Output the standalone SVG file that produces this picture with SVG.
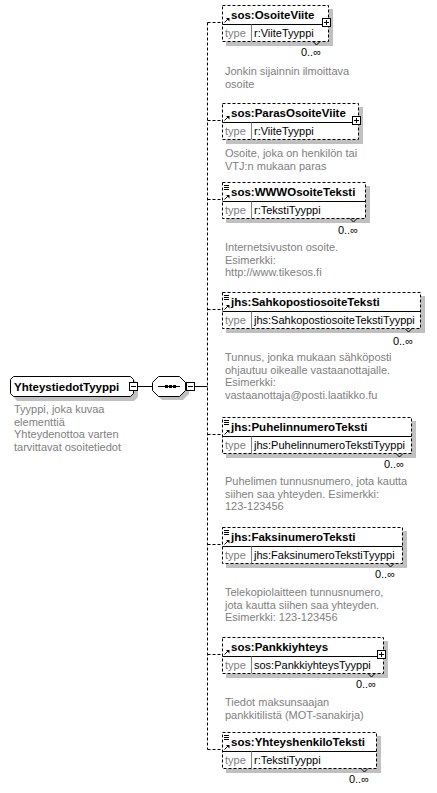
<svg xmlns="http://www.w3.org/2000/svg" width="437" height="793" viewBox="0 0 437 793">
<style>
.bg{fill:#fff}
.sh{fill:#c0c0c0}
.box{fill:#fff;stroke:#000;stroke-width:1;stroke-dasharray:3,2}
.sol{fill:#fff;stroke:#000;stroke-width:1}
.dv{stroke:#000;stroke-width:1;fill:none}
.dv2{stroke:#808080;stroke-width:1;fill:none}
.cn{stroke:#000;stroke-width:1;fill:none;stroke-dasharray:3,2}
.ln{stroke:#000;stroke-width:1;fill:none}
.ti{font-family:"Liberation Sans",Arial,sans-serif;font-size:11.5px;font-weight:bold;fill:#000}
.ty{font-family:"Liberation Sans",Arial,sans-serif;font-size:11px;fill:#000}
.gr{fill:#808080}
.ds{font-family:"Liberation Sans",Arial,sans-serif;font-size:11px;fill:#808080}
.mu{font-family:"Liberation Sans",Arial,sans-serif;font-size:11px;fill:#000;text-anchor:end}
</style>
<defs>
<g id="arrow"><path d="M0.5,4.5 L4,1" class="ln"/><path d="M2,0 L5.5,0 L5.5,3.5 Z" fill="#000"/></g>
<g id="lines"><path d="M0,0.5 H5 M0,2.5 H5 M0,4.5 H5" class="ln"/></g>
</defs>
<rect class="bg" x="0" y="0" width="437" height="793"/>

<g id="connectors">
<line class="ln" x1="137.5" y1="386.5" x2="152.5" y2="386.5"/>
<line class="ln" x1="194.5" y1="386.5" x2="207.5" y2="386.5"/>
<line class="cn" x1="207.5" y1="22.5" x2="207.5" y2="749.5"/>
<line class="cn" x1="207.5" y1="22.5" x2="222.5" y2="22.5"/>
<line class="cn" x1="207.5" y1="120.5" x2="222.5" y2="120.5"/>
<line class="cn" x1="207.5" y1="199.5" x2="222.5" y2="199.5"/>
<line class="cn" x1="207.5" y1="309.5" x2="222.5" y2="309.5"/>
<line class="cn" x1="207.5" y1="434.5" x2="222.5" y2="434.5"/>
<line class="cn" x1="207.5" y1="544.5" x2="222.5" y2="544.5"/>
<line class="cn" x1="207.5" y1="654.5" x2="222.5" y2="654.5"/>
<line class="cn" x1="207.5" y1="749.5" x2="222.5" y2="749.5"/>
</g>

<g id="YhteystiedotTyyppi">
<path class="sh" d="M17,380 H134 L138,384 V397 L134,401 H17 L14,397 V384 Z"/>
<path class="sol" d="M13.5,376.5 H130.5 L133.5,379.5 V393.5 L130.5,396.5 H13.5 L10.5,393.5 V379.5 Z"/>
<text class="ti" x="14" y="391">YhteystiedotTyyppi</text>
<rect class="sol" x="129.5" y="382.5" width="8" height="8"/>
<line class="ln" x1="131" y1="386.5" x2="136" y2="386.5"/>
<text class="ds" x="14" y="413">Tyyppi, joka kuvaa</text>
<text class="ds" x="14" y="425.5">elementtiä</text>
<text class="ds" x="14" y="438">Yhteydenottoa varten</text>
<text class="ds" x="14" y="450.5">tarvittavat osoitetiedot</text>
</g>

<g id="sequence">
<path class="sh" d="M162,380 H183 L189,386 V394 L183,400 H162 L156,394 V386 Z"/>
<path class="sol" d="M158.5,376.5 H179.5 L185.5,382.5 V390.5 L179.5,396.5 H158.5 L152.5,390.5 V382.5 Z"/>
<line class="ln" x1="158" y1="386.5" x2="180" y2="386.5"/>
<rect x="165" y="385" width="3" height="3" fill="#000"/>
<rect x="169" y="385" width="3" height="3" fill="#000"/>
<rect x="173" y="385" width="3" height="3" fill="#000"/>
<rect class="sol" x="186.5" y="382.5" width="8" height="8"/>
<line class="ln" x1="188" y1="386.5" x2="193" y2="386.5"/>
</g>

<g id="OsoiteViite">
<rect class="sh" x="226" y="9" width="107" height="37"/>
<rect class="box" x="222.5" y="5.5" width="106" height="36"/>
<line class="dv" x1="222.5" y1="24.5" x2="328.5" y2="24.5"/>
<line class="dv2" x1="251.5" y1="24.5" x2="251.5" y2="41.5"/>
<use href="#arrow" x="224" y="18"/>
<text class="ti" x="231" y="19">sos:OsoiteViite</text>
<text class="ty gr" x="225" y="37">type</text>
<text class="ty" x="254" y="37">r:ViiteTyyppi</text>
<rect class="sol" x="322.5" y="18.5" width="8" height="8"/>
<path class="ln" d="M324,22.5 H329 M326.5,20 V25"/>
<path class="ln" d="M313,41.5 L316.5,45 L320,41.5"/>
<text class="mu" x="321" y="56">0..∞</text>
<text class="ds" x="225" y="75">Jonkin sijainnin ilmoittava</text>
<text class="ds" x="225" y="87.5">osoite</text>
</g>

<g id="ParasOsoiteViite">
<rect class="sh" x="226" y="107" width="137" height="37"/>
<rect class="box" x="222.5" y="103.5" width="136" height="36"/>
<line class="dv" x1="222.5" y1="122.5" x2="358.5" y2="122.5"/>
<line class="dv2" x1="251.5" y1="122.5" x2="251.5" y2="139.5"/>
<use href="#arrow" x="224" y="116"/>
<text class="ti" x="231" y="117">sos:ParasOsoiteViite</text>
<text class="ty gr" x="225" y="135">type</text>
<text class="ty" x="254" y="135">r:ViiteTyyppi</text>
<rect class="sol" x="352.5" y="116.5" width="8" height="8"/>
<path class="ln" d="M354,120.5 H359 M356.5,118 V123"/>
<text class="ds" x="225" y="157">Osoite, joka on henkilön tai</text>
<text class="ds" x="225" y="169.5">VTJ:n mukaan paras</text>
</g>

<g id="WWWOsoiteTeksti">
<rect class="sh" x="226" y="186" width="144" height="37"/>
<rect class="box" x="222.5" y="182.5" width="143" height="36"/>
<line class="dv" x1="222.5" y1="201.5" x2="365.5" y2="201.5"/>
<line class="dv2" x1="251.5" y1="201.5" x2="251.5" y2="218.5"/>
<use href="#lines" x="224" y="185"/>
<use href="#arrow" x="224" y="195"/>
<text class="ti" x="231" y="196">sos:WWWOsoiteTeksti</text>
<text class="ty gr" x="225" y="214">type</text>
<text class="ty" x="254" y="214">r:TekstiTyyppi</text>
<path class="ln" d="M350,218.5 L353.5,222 L357,218.5"/>
<text class="mu" x="358" y="234">0..∞</text>
<text class="ds" x="225" y="251">Internetsivuston osoite.</text>
<text class="ds" x="225" y="263.5">Esimerkki:</text>
<text class="ds" x="225" y="276">http://www.tikesos.fi</text>
</g>

<g id="SahkopostiosoiteTeksti">
<rect class="sh" x="226" y="296" width="199" height="37"/>
<rect class="box" x="222.5" y="292.5" width="198" height="36"/>
<line class="dv" x1="222.5" y1="311.5" x2="420.5" y2="311.5"/>
<line class="dv2" x1="251.5" y1="311.5" x2="251.5" y2="328.5"/>
<use href="#lines" x="224" y="295"/>
<use href="#arrow" x="224" y="305"/>
<text class="ti" x="231" y="306">jhs:SahkopostiosoiteTeksti</text>
<text class="ty gr" x="225" y="324">type</text>
<text class="ty" x="254" y="324">jhs:SahkopostiosoiteTekstiTyyppi</text>
<path class="ln" d="M405,328.5 L408.5,332 L412,328.5"/>
<text class="mu" x="413" y="345">0..∞</text>
<text class="ds" x="225" y="361">Tunnus, jonka mukaan sähköposti</text>
<text class="ds" x="225" y="373.5">ohjautuu oikealle vastaanottajalle.</text>
<text class="ds" x="225" y="386">Esimerkki:</text>
<text class="ds" x="225" y="398.5">vastaanottaja@posti.laatikko.fu</text>
</g>

<g id="PuhelinnumeroTeksti">
<rect class="sh" x="226" y="421" width="190" height="37"/>
<rect class="box" x="222.5" y="417.5" width="189" height="36"/>
<line class="dv" x1="222.5" y1="436.5" x2="411.5" y2="436.5"/>
<line class="dv2" x1="251.5" y1="436.5" x2="251.5" y2="453.5"/>
<use href="#lines" x="224" y="420"/>
<use href="#arrow" x="224" y="430"/>
<text class="ti" x="231" y="431">jhs:PuhelinnumeroTeksti</text>
<text class="ty gr" x="225" y="449">type</text>
<text class="ty" x="254" y="449">jhs:PuhelinnumeroTekstiTyyppi</text>
<path class="ln" d="M396,453.5 L399.5,457 L403,453.5"/>
<text class="mu" x="404" y="468">0..∞</text>
<text class="ds" x="225" y="485">Puhelimen tunnusnumero, jota kautta</text>
<text class="ds" x="225" y="497.5">siihen saa yhteyden. Esimerkki:</text>
<text class="ds" x="225" y="510">123-123456</text>
</g>

<g id="FaksinumeroTeksti">
<rect class="sh" x="226" y="531" width="181" height="37"/>
<rect class="box" x="222.5" y="527.5" width="180" height="36"/>
<line class="dv" x1="222.5" y1="546.5" x2="402.5" y2="546.5"/>
<line class="dv2" x1="251.5" y1="546.5" x2="251.5" y2="563.5"/>
<use href="#lines" x="224" y="530"/>
<use href="#arrow" x="224" y="540"/>
<text class="ti" x="231" y="541">jhs:FaksinumeroTeksti</text>
<text class="ty gr" x="225" y="559">type</text>
<text class="ty" x="254" y="559">jhs:FaksinumeroTekstiTyyppi</text>
<path class="ln" d="M387,563.5 L390.5,567 L394,563.5"/>
<text class="mu" x="395" y="578">0..∞</text>
<text class="ds" x="225" y="596">Telekopiolaitteen tunnusnumero,</text>
<text class="ds" x="225" y="608.5">jota kautta siihen saa yhteyden.</text>
<text class="ds" x="225" y="621">Esimerkki: 123-123456</text>
</g>

<g id="Pankkiyhteys">
<rect class="sh" x="226" y="641" width="162" height="37"/>
<rect class="box" x="222.5" y="637.5" width="161" height="36"/>
<line class="dv" x1="222.5" y1="656.5" x2="383.5" y2="656.5"/>
<line class="dv2" x1="251.5" y1="656.5" x2="251.5" y2="673.5"/>
<use href="#arrow" x="224" y="650"/>
<text class="ti" x="231" y="651">sos:Pankkiyhteys</text>
<text class="ty gr" x="225" y="669">type</text>
<text class="ty" x="254" y="669">sos:PankkiyhteysTyyppi</text>
<rect class="sol" x="377.5" y="650.5" width="8" height="8"/>
<path class="ln" d="M379,654.5 H384 M381.5,652 V657"/>
<path class="ln" d="M368,673.5 L371.5,677 L375,673.5"/>
<text class="mu" x="376" y="688">0..∞</text>
<text class="ds" x="225" y="706">Tiedot maksunsaajan</text>
<text class="ds" x="225" y="718.5">pankkitilistä (MOT-sanakirja)</text>
</g>

<g id="YhteyshenkiloTeksti">
<rect class="sh" x="226" y="736" width="155" height="37"/>
<rect class="box" x="222.5" y="732.5" width="154" height="36"/>
<line class="dv" x1="222.5" y1="751.5" x2="376.5" y2="751.5"/>
<line class="dv2" x1="251.5" y1="751.5" x2="251.5" y2="768.5"/>
<use href="#lines" x="224" y="735"/>
<use href="#arrow" x="224" y="745"/>
<text class="ti" x="231" y="746">sos:YhteyshenkiloTeksti</text>
<text class="ty gr" x="225" y="764">type</text>
<text class="ty" x="254" y="764">r:TekstiTyyppi</text>
<path class="ln" d="M361,768.5 L364.5,772 L368,768.5"/>
<text class="mu" x="369" y="783">0..∞</text>
</g>
</svg>
